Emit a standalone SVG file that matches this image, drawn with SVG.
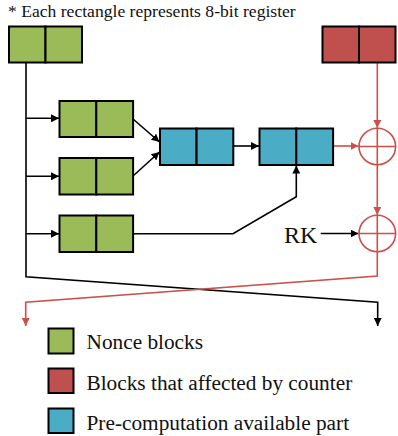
<svg xmlns="http://www.w3.org/2000/svg" width="398" height="436" viewBox="0 0 398 436">
<style>
.g{fill:#9BBB59}.r{fill:#C0504D}.b{fill:#4BACC6}
.box{stroke:#000;stroke-width:2}
.ln{fill:none;stroke:#000;stroke-width:1.6}
.rl{fill:none;stroke:#C9504B;stroke-width:1.6}
.t{font-family:"Liberation Serif",serif;fill:#111}
</style>
<defs>
<marker id="ak" viewBox="0 0 10 10" refX="10" refY="5" markerWidth="8" markerHeight="8" markerUnits="userSpaceOnUse" orient="auto"><path d="M0,0L10,5L0,10z" fill="#000"/></marker>
<marker id="ar" viewBox="0 0 10 10" refX="10" refY="5" markerWidth="8" markerHeight="8" markerUnits="userSpaceOnUse" orient="auto"><path d="M0,0L10,5L0,10z" fill="#C9504B"/></marker>
</defs>
<text class="t" x="8" y="17" font-size="17.6">* Each rectangle represents 8-bit register</text>
<g id="connectors">
<path class="ln" d="M26,62.6V276.7L377.7,302.3V326" marker-end="url(#ak)"/>
<path class="ln" d="M26,118.3H59" marker-end="url(#ak)"/>
<path class="ln" d="M26,176.3H59" marker-end="url(#ak)"/>
<path class="ln" d="M26,233.7H59" marker-end="url(#ak)"/>
<path class="ln" d="M133,119L159.5,142" marker-end="url(#ak)"/>
<path class="ln" d="M133,176L159.5,152" marker-end="url(#ak)"/>
<path class="ln" d="M233.3,146H259" marker-end="url(#ak)"/>
<path class="ln" d="M133,233.7H233L296.3,196.7V165.5" marker-end="url(#ak)"/>
<path class="ln" d="M320.7,233.5H358.5" marker-end="url(#ak)"/>
<path class="rl" d="M377.3,62.6V128" marker-end="url(#ar)"/>
<path class="rl" d="M333,146H358.5" marker-end="url(#ar)"/>
<path class="rl" d="M377.3,165V215" marker-end="url(#ar)"/>
<path class="rl" d="M377.3,252V276L25.7,302.3V326" marker-end="url(#ar)"/>
</g>
<g id="nonce_top"><rect class="g box" x="9" y="26.5" width="36.5" height="36"/><rect class="g box" x="45.5" y="26.5" width="36.5" height="36"/></g>
<g id="counter_top"><rect class="r box" x="322.5" y="26.5" width="36.5" height="36"/><rect class="r box" x="359" y="26.5" width="36.5" height="36"/></g>
<g id="nonce1"><rect class="g box" x="59.5" y="101" width="36.8" height="36"/><rect class="g box" x="96.3" y="101" width="36.8" height="36"/></g>
<g id="nonce2"><rect class="g box" x="59.5" y="158" width="36.8" height="36.5"/><rect class="g box" x="96.3" y="158" width="36.8" height="36.5"/></g>
<g id="nonce3"><rect class="g box" x="59.5" y="215.5" width="36.8" height="36.5"/><rect class="g box" x="96.3" y="215.5" width="36.8" height="36.5"/></g>
<g id="pre1"><rect class="b box" x="160" y="128.5" width="36.6" height="36.5"/><rect class="b box" x="196.6" y="128.5" width="36.7" height="36.5"/></g>
<g id="pre2"><rect class="b box" x="259.5" y="128.5" width="36.8" height="36.5"/><rect class="b box" x="296.3" y="128.5" width="36.8" height="36.5"/></g>
<g id="xor1"><circle cx="377.3" cy="146.5" r="18.3" fill="none" stroke="#C9504B" stroke-width="1.6"/><path class="rl" d="M359,146.5H395.6M377.3,128.2V164.8"/></g>
<g id="xor2"><circle cx="377.3" cy="233.5" r="18.3" fill="none" stroke="#C9504B" stroke-width="1.6"/><path class="rl" d="M359,233.5H395.6M377.3,215.2V251.8"/></g>
<text class="t" x="284" y="243" font-size="24">RK</text>
<g id="legend">
<rect class="g box" x="48.5" y="328.5" width="25" height="25"/>
<text class="t" x="86.5" y="349.3" font-size="21.3">Nonce blocks</text>
<rect class="r box" x="48.5" y="368.5" width="25" height="24.5"/>
<text class="t" x="86.5" y="390" font-size="21.3">Blocks that affected by counter</text>
<rect class="b box" x="48.5" y="408.5" width="25" height="24.5"/>
<text class="t" x="86.5" y="430" font-size="21.3">Pre-computation available part</text>
</g>
</svg>
